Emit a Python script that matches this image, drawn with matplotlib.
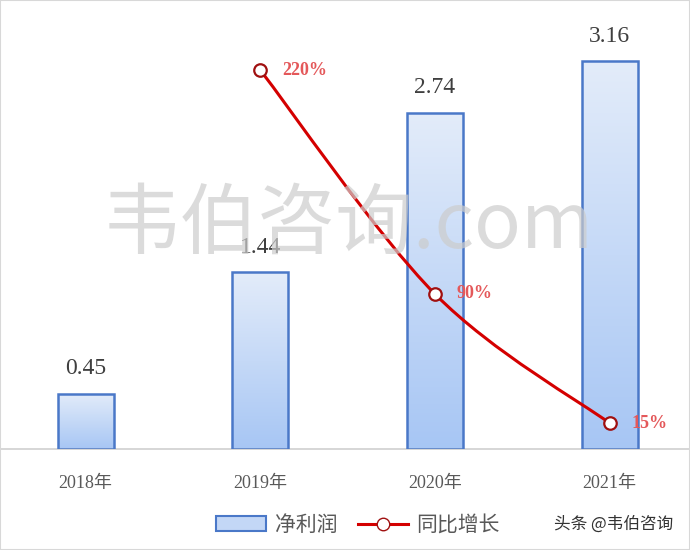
import numpy as np
import matplotlib
matplotlib.use("Agg")
import matplotlib.pyplot as plt
from matplotlib.path import Path
from matplotlib.patches import PathPatch, Rectangle, Patch
from matplotlib.lines import Line2D

plt.rcParams['font.family'] = ['Noto Sans CJK SC', 'DejaVu Sans']
serif_cjk = ['Liberation Serif', 'Noto Sans CJK SC']

# data
years = ["2018年", "2019年", "2020年", "2021年"]
profit = [0.45, 1.44, 2.74, 3.16]
growth_years = ["2019年", "2020年", "2021年"]
growth = [220, 90, 15]

bar_edge = "#4a78c8"
line_red = "#d40000"
label_red = "#e4585a"

fig = plt.figure(figsize=(6.9, 5.5), dpi=100)
ax = fig.add_axes([0, 101 / 550, 1, 449 / 550])

x = np.arange(len(years))
w = 0.32

# gradient bars
grad = np.linspace(0, 1, 256).reshape(-1, 1)
cmap = matplotlib.colors.LinearSegmentedColormap.from_list("g", ["#a7c6f4", "#e3ecfa"])
bars = ax.bar(x, profit, width=w, facecolor="none", edgecolor=bar_edge, linewidth=1.8, zorder=3)
for b in bars:
    x0, y0 = b.get_x(), b.get_y()
    im = ax.imshow(grad, cmap=cmap, aspect="auto", origin="lower",
                   extent=[x0, x0 + b.get_width(), y0, y0 + b.get_height()], zorder=2)
    im.set_clip_path(b)
ax.set_aspect("auto")
ax.set_xlim(-0.49, 3.46)
ax.set_ylim(0, 3.66)

for xi, v in zip(x, profit):
    ax.annotate(f"{v:.2f}", (xi, v), xytext=(0, 25), textcoords="offset pixels",
                ha="center", va="center", fontsize=17, color="#3f3f3f",
                family="Liberation Serif", zorder=12)

ax.set_xticks(x)
ax.set_xticklabels(years, fontsize=13, color="#595959", family=serif_cjk)
ax.tick_params(axis="x", length=0, pad=19)
ax.set_yticks([])
for s in ["top", "left", "right"]:
    ax.spines[s].set_visible(False)
ax.spines["bottom"].set_color("#d0d0d0")
ax.spines["bottom"].set_linewidth(1.2)

# growth line on secondary axis, smoothed
ax2 = ax.twinx()
ax2.set_ylim(0, 260.7)
ax2.set_yticks([])
for s in ax2.spines.values():
    s.set_visible(False)
gx = np.array([years.index(y) for y in growth_years], dtype=float)
gy = np.array(growth, dtype=float)
pts = np.column_stack([gx, gy])
verts = [pts[0]]
codes = [Path.MOVETO]
for i in range(len(pts) - 1):
    p_prev = pts[max(i - 1, 0)]
    p_next = pts[min(i + 2, len(pts) - 1)]
    c1 = pts[i] + (pts[i + 1] - p_prev) / 6
    c2 = pts[i + 1] - (p_next - pts[i]) / 6
    verts += [c1, c2, pts[i + 1]]
    codes += [Path.CURVE4] * 3
ax2.add_patch(PathPatch(Path(verts, codes), facecolor="none", edgecolor=line_red,
                        linewidth=2.2, zorder=4))
ax2.plot(gx, gy, linestyle="none", marker="o", markersize=9, markerfacecolor="white",
         markeredgecolor="#a01010", markeredgewidth=1.6, zorder=5)
for xi, v in zip(gx, gy):
    ax2.annotate(f"{int(v)}%", (xi, v), xytext=(22, 0), textcoords="offset pixels",
                 ha="left", va="center", fontsize=13, color=label_red, fontweight="bold",
                 family="Liberation Serif")

# watermark
fig.text(0.505, 1 - 226 / 550, "韦伯咨询.com", fontsize=56, color="#cccccc", alpha=0.7,
         ha="center", va="center", zorder=1)

# legend
handles = [Patch(facecolor="#c3d7f6", edgecolor=bar_edge, linewidth=1.5),
           Line2D([0], [0], color=line_red, linewidth=2.2, marker="o", markersize=9,
                  markerfacecolor="white", markeredgecolor="#a01010")]
fig.legend(handles, ["净利润", "同比增长"], loc="center", ncol=2,
           bbox_to_anchor=(358 / 690, 1 - 525 / 550), frameon=False, fontsize=15,
           labelcolor="#595959", handlelength=2.4, columnspacing=1.0, handletextpad=0.4)

fig.text(614 / 690, 1 - 524 / 550, "头条 @韦伯咨询", fontsize=12, color="#333333",
         ha="center", va="center")

fig.patches.append(Rectangle((0, 0), 1, 1, transform=fig.transFigure, fill=False,
                             edgecolor="#d8d8d8", linewidth=1.5))

fig.savefig("out.png", dpi=100)
